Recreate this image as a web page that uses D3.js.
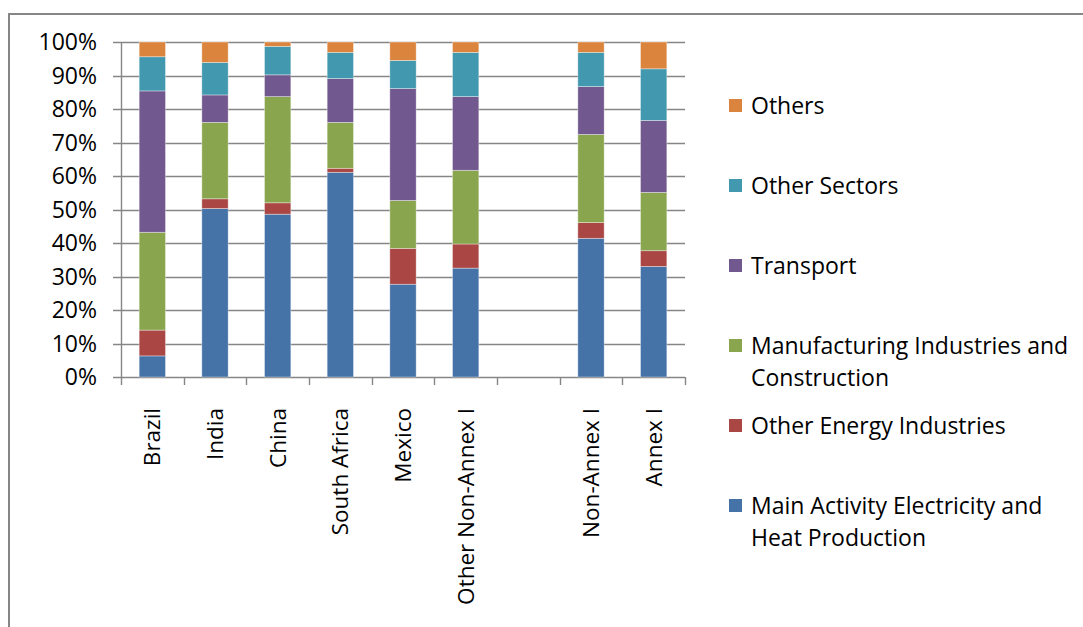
<!DOCTYPE html>
<html>
<head>
<meta charset="utf-8">
<script src="https://cdn.jsdelivr.net/npm/d3@7"></script>
<style>
  body { margin: 0; background: #fff; }
  svg text { font-family: "Open Sans", sans-serif; fill: #000; }
</style>
</head>
<body>
<div id="chart"></div>
<script>
// categories (the empty one is the gap between the two groups)
var categories = ["Brazil", "India", "China", "South Africa", "Mexico", "Other Non-Annex I", "", "Non-Annex I", "Annex I"];

// share of each sector, in percent
var mainActivity  = [6.3, 50.3, 48.6, 61.1, 27.7, 32.5, 0, 41.4, 33.0];
var otherEnergy   = [7.7,  2.9,  3.4,  1.2, 10.7,  7.2, 0,  4.7,  4.7];
var manufacturing = [29.2, 22.8, 31.7, 13.7, 14.3, 22.0, 0, 26.3, 17.4];
var transport     = [42.2,  8.2,  6.5, 13.1, 33.4, 22.0, 0, 14.3, 21.5];
var otherSectors  = [10.2,  9.7,  8.5,  7.8,  8.4, 13.2, 0, 10.2, 15.4];
var others        = [4.4,  6.1,  1.3,  3.1,  5.5,  3.1, 0,  3.1,  8.0];

var seriesNames = ["Main Activity Electricity and Heat Production", "Other Energy Industries",
                   "Manufacturing Industries and Construction", "Transport", "Other Sectors", "Others"];
var seriesValues = [mainActivity, otherEnergy, manufacturing, transport, otherSectors, others];
var colors = ["#4572A7", "#AA4643", "#89A54E", "#71588F", "#4198AF", "#DB843D"];

var yTicks = [0, 0.1, 0.2, 0.3, 0.4, 0.5, 0.6, 0.7, 0.8, 0.9, 1];

var width = 1083, height = 627;
var plot = {left: 121, right: 685, top: 42, bottom: 377};

var svg = d3.select("#chart")
    .append("svg")
    .attr("width", width)
    .attr("height", height);

// outer chart frame
svg.append("rect")
    .attr("x", 9).attr("y", 14)
    .attr("width", width + 10).attr("height", height + 10)
    .attr("fill", "#fff")
    .attr("stroke", "#868686")
    .attr("stroke-width", 2);

// build table for the stack
var rows = categories.map(function(c, i) {
    var r = {cat: c, idx: i};
    seriesNames.forEach(function(s, k) { r[s] = seriesValues[k][i]; });
    return r;
});

var stacked = d3.stack()
    .keys(seriesNames)
    .offset(d3.stackOffsetExpand)(rows);

var x = d3.scaleBand()
    .domain(d3.range(categories.length))
    .range([plot.left, plot.right])
    .padding(0);

var y = d3.scaleLinear()
    .domain([0, 1])
    .range([plot.bottom, plot.top]);

// gridlines
svg.append("g")
    .selectAll("line")
    .data(yTicks)
    .enter()
    .append("line")
    .attr("x1", plot.left - 8)
    .attr("x2", plot.right)
    .attr("y1", function(d) { return Math.round(y(d)) + 0.5; })
    .attr("y2", function(d) { return Math.round(y(d)) + 0.5; })
    .attr("stroke", "#868686")
    .attr("stroke-width", 1.4);

// y tick labels
svg.append("g")
    .selectAll("text")
    .data(yTicks)
    .enter()
    .append("text")
    .attr("x", 97)
    .attr("y", function(d) { return y(d); })
    .attr("dy", "0.36em")
    .attr("text-anchor", "end")
    .style("font-size", "23px")
    .text(d3.format(".0%"));

// bars
var barW = x.bandwidth() * 0.42;
svg.append("g")
    .selectAll("g")
    .data(stacked)
    .enter()
    .append("g")
    .attr("fill", function(d, i) { return colors[i]; })
    .selectAll("rect")
    .data(function(d) { return d.filter(function(p) { return p.data.cat !== ""; }); })
    .enter()
    .append("rect")
    .attr("x", function(d) { return x(d.data.idx) + (x.bandwidth() - barW) / 2; })
    .attr("y", function(d) { return y(d[1]); })
    .attr("width", barW)
    .attr("height", function(d) { return y(d[0]) - y(d[1]); })
    .attr("stroke", "#ffffff")
    .attr("stroke-opacity", 0.45)
    .attr("stroke-width", 0.8);

// axes lines
svg.append("line")
    .attr("x1", plot.left + 0.5).attr("x2", plot.left + 0.5)
    .attr("y1", plot.top).attr("y2", plot.bottom)
    .attr("stroke", "#868686").attr("stroke-width", 1.4);

svg.append("g")
    .selectAll("line")
    .data(d3.range(categories.length + 1))
    .enter()
    .append("line")
    .attr("x1", function(d) { return Math.round(plot.left + d * x.step()) + 0.5; })
    .attr("x2", function(d) { return Math.round(plot.left + d * x.step()) + 0.5; })
    .attr("y1", plot.bottom)
    .attr("y2", plot.bottom + 8)
    .attr("stroke", "#868686").attr("stroke-width", 1.4);

// x labels
svg.append("g")
    .selectAll("text")
    .data(categories.map(function(c, i) { return {cat: c, idx: i}; }).filter(function(d) { return d.cat !== ""; }))
    .enter()
    .append("text")
    .attr("transform", function(d) {
        return "translate(" + (x(d.idx) + x.bandwidth() / 2) + ",408) rotate(-90)";
    })
    .attr("dy", "0.36em")
    .attr("text-anchor", "end")
    .style("font-size", "22.5px")
    .text(function(d) { return d.cat; });

// legend
var legendRows = [
    {k: 5, y: 106, lines: ["Others"]},
    {k: 4, y: 186, lines: ["Other Sectors"]},
    {k: 3, y: 266, lines: ["Transport"]},
    {k: 2, y: 346, lines: ["Manufacturing Industries and", "Construction"]},
    {k: 1, y: 426, lines: ["Other Energy Industries"]},
    {k: 0, y: 506, lines: ["Main Activity Electricity and", "Heat Production"]}
];

var legend = svg.append("g")
    .selectAll("g")
    .data(legendRows)
    .enter()
    .append("g");

legend.append("rect")
    .attr("x", 729)
    .attr("y", function(d) { return d.y - 7; })
    .attr("width", 13)
    .attr("height", 13)
    .attr("fill", function(d) { return colors[d.k]; });

legend.append("text")
    .attr("x", 751)
    .attr("y", function(d) { return d.y; })
    .style("font-size", "23px")
    .selectAll("tspan")
    .data(function(d) { return d.lines; })
    .enter()
    .append("tspan")
    .attr("x", 751)
    .attr("dy", function(d, i) { return i === 0 ? "0.36em" : "31.5px"; })
    .text(function(d) { return d; });
</script>
</body>
</html>
